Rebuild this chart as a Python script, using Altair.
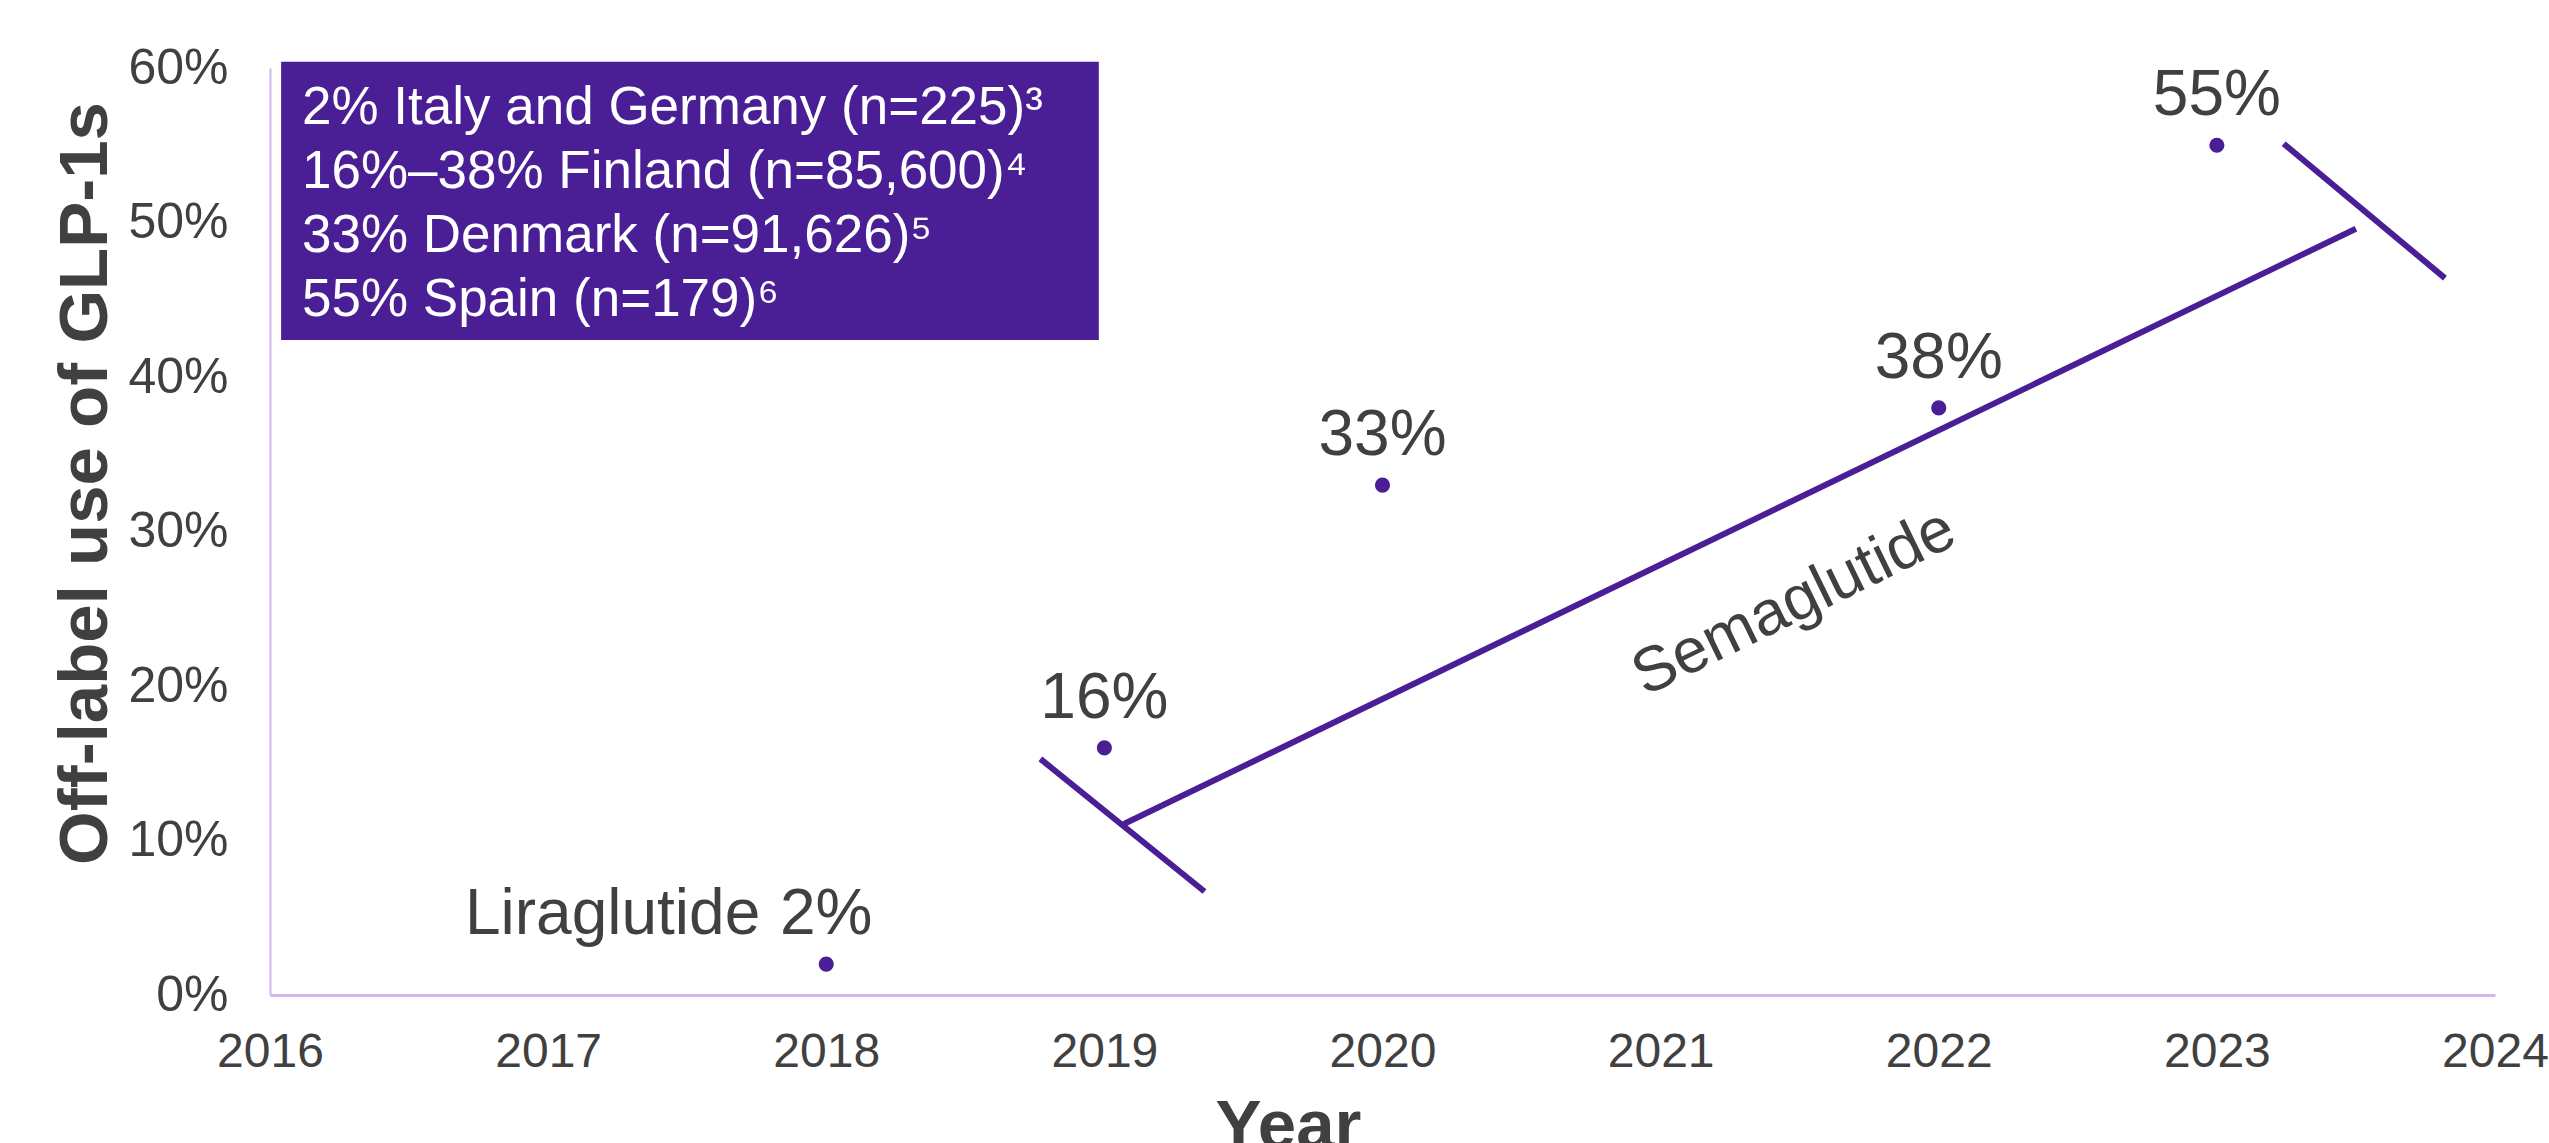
import altair as alt
import pandas as pd

# ---- data ----
years = [2018, 2019, 2020, 2022, 2023]
offlabel_pct = [2, 16, 33, 38, 55]
point_labels = ["2%", "16%", "33%", "38%", "55%"]

year_ticks = [2016, 2017, 2018, 2019, 2020, 2021, 2022, 2023, 2024]
pct_ticks = [0, 10, 20, 30, 40, 50, 60]

box_lines = [
    "2% Italy and Germany (n=225)\u00b3",
    "16%\u201338% Finland (n=85,600)\u2074",
    "33% Denmark (n=91,626)\u2075",
    "55% Spain (n=179)\u2076",
]

# bracket annotation for semaglutide (in data units: year, percent)
sema_main_x = [2019.07, 2023.50]
sema_main_y = [11.07, 49.6]
sema_cap_start_x = [2018.77, 2019.36]
sema_cap_start_y = [15.28, 6.7]
sema_cap_end_x = [2023.24, 2023.82]
sema_cap_end_y = [55.1, 46.4]
sema_label_pos = (2021.48, 25.4)

lira_label = "Liraglutide"
sema_label = "Semaglutide"

# box extent in data units
box_x = (2016.04, 2018.98)
box_y = (42.4, 60.4)

PURPLE = "#4A1F96"
LILAC = "#CDB6F2"
GREY = "#404040"
FONT = "Liberation Sans"

points = pd.DataFrame({"year": years, "pct": offlabel_pct, "label": point_labels})

x_scale = alt.Scale(domain=[2016, 2024], nice=False, zero=False)
y_scale = alt.Scale(domain=[0, 60], nice=False)

x_enc = alt.X(
    "year:Q",
    scale=x_scale,
    axis=alt.Axis(
        values=year_ticks,
        format="d",
        grid=False,
        ticks=False,
        domainColor=LILAC,
        domainWidth=3,
        labelFont=FONT,
        labelFontSize=48,
        labelColor=GREY,
        labelPadding=33,
        labelFlush=False,
        labelOverlap=False,
        title="Year",
        titleFont=FONT,
        titleFontSize=69,
        titleFontWeight="bold",
        titleColor=GREY,
        titleX=1018,
        titleY=152,
        titleAlign="center",
        titleBaseline="alphabetic",
    ),
)
y_enc = alt.Y(
    "pct:Q",
    scale=y_scale,
    axis=alt.Axis(
        values=pct_ticks,
        labelExpr="datum.value + '%'",
        grid=False,
        ticks=False,
        domainColor=LILAC,
        domainWidth=2,
        labelFont=FONT,
        labelFontSize=50,
        labelColor=GREY,
        labelPadding=42,
        labelFlush=False,
        labelOverlap=False,
        title="Off-label use of GLP-1s",
        titleFont=FONT,
        titleFontSize=69,
        titleFontWeight="bold",
        titleColor=GREY,
        titleAngle=270,
        titleX=-185,
        titleY=415,
        titleAlign="center",
        titleBaseline="middle",
    ),
)

dots = alt.Chart(points).mark_point(filled=True, size=230, color=PURPLE, opacity=1).encode(
    x=x_enc, y=y_enc
)

labels = alt.Chart(points).mark_text(
    font=FONT, fontSize=64, color=GREY, align="center", baseline="alphabetic", dy=-30
).encode(x="year:Q", y="pct:Q", text="label:N")

lira = alt.Chart(points.iloc[[0]].assign(t=lira_label)).mark_text(
    font=FONT, fontSize=64, color=GREY, align="right", baseline="alphabetic", dx=-66, dy=-30
).encode(x="year:Q", y="pct:Q", text="t:N")

def seg(xs, ys):
    df = pd.DataFrame({"x": [xs[0]], "y": [ys[0]], "x2": [xs[1]], "y2": [ys[1]]})
    return alt.Chart(df).mark_rule(color=PURPLE, strokeWidth=6).encode(
        x=alt.X("x:Q", scale=x_scale), y=alt.Y("y:Q", scale=y_scale), x2="x2:Q", y2="y2:Q"
    )

bracket = seg(sema_main_x, sema_main_y) + seg(sema_cap_start_x, sema_cap_start_y) + seg(sema_cap_end_x, sema_cap_end_y)

sema = alt.Chart(pd.DataFrame({"x": [sema_label_pos[0]], "y": [sema_label_pos[1]], "t": [sema_label]})).mark_text(
    font=FONT, fontSize=63, color=GREY, align="center", baseline="middle", angle=334
).encode(x="x:Q", y="y:Q", text="t:N")

box_df = pd.DataFrame({"x": [box_x[0]], "x2": [box_x[1]], "y": [box_y[0]], "y2": [box_y[1]]})
box = alt.Chart(box_df).mark_rect(color=PURPLE).encode(x="x:Q", x2="x2:Q", y="y:Q", y2="y2:Q")

box_text_df = pd.DataFrame({"x": [2016.115], "y": [56.4], "t": ["\n".join(box_lines)]})
box_text = alt.Chart(box_text_df).mark_text(
    font=FONT, fontSize=53, color="white", align="left", baseline="alphabetic",
    lineBreak="\n", lineHeight=64
).encode(x="x:Q", y="y:Q", text="t:N")

chart = alt.layer(dots, box, box_text, bracket, sema, labels, lira).properties(
    width=2225,
    height=927,
    padding={"left": 270, "top": 68, "right": 54, "bottom": 148},
    autosize="none",
    background="white",
).configure_view(stroke=None)

chart.save("out.html", embed_options={"renderer": "svg", "actions": False})
